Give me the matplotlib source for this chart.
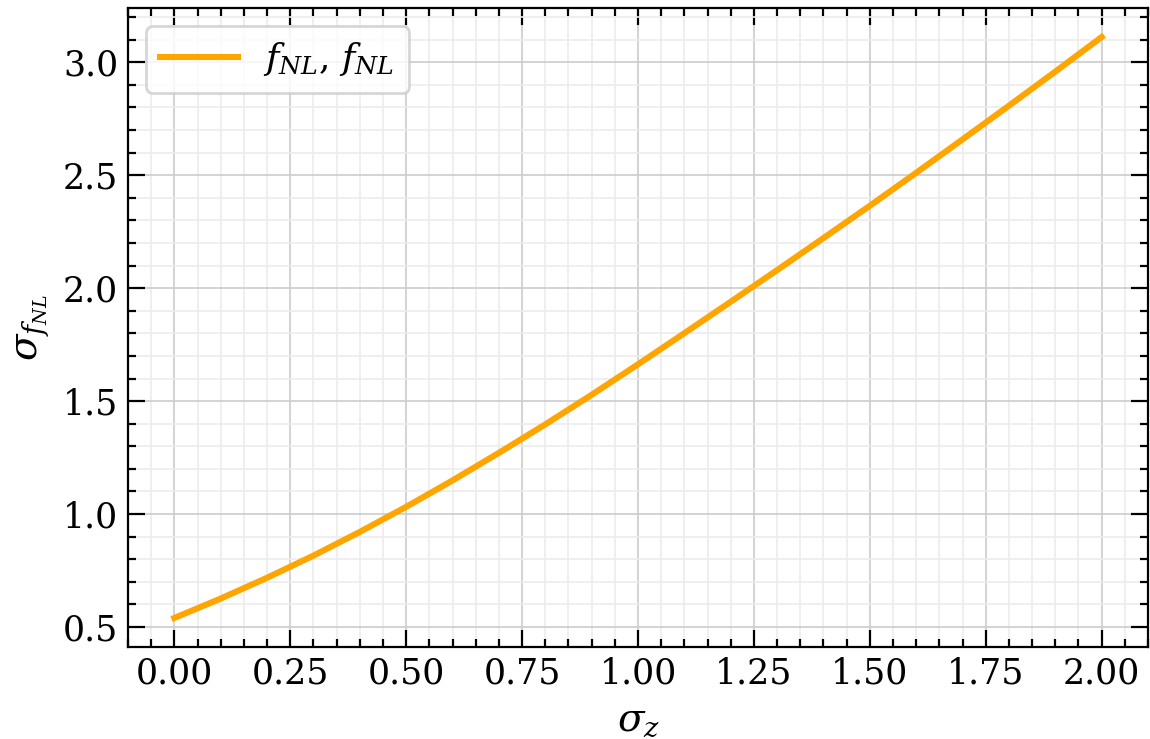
import matplotlib
matplotlib.use("Agg")
import matplotlib.pyplot as plt
from matplotlib.ticker import MultipleLocator

# sigma_z values and forecast error on f_NL
sigma_z = [0.0, 0.1, 0.2, 0.3, 0.4, 0.5, 0.6, 0.7, 0.8, 0.9, 1.0,
           1.1, 1.2, 1.3, 1.4, 1.5, 1.6, 1.7, 1.8, 1.9, 2.0]
sigma_fnl = [0.540, 0.626, 0.718, 0.816, 0.921, 1.032, 1.149, 1.271, 1.397, 1.528, 1.663,
             1.801, 1.940, 2.080, 2.222, 2.365, 2.511, 2.659, 2.808, 2.959, 3.112]
series_label = r"$f_{NL}$, $f_{NL}$"

plt.rcParams["font.family"] = "DejaVu Serif"
plt.rcParams["mathtext.fontset"] = "dejavuserif"
plt.rcParams["font.size"] = 12.5

fig = plt.figure(figsize=(5.75, 3.695), dpi=200)
ax = fig.add_axes([0.1113, 0.1245, 0.887, 0.8647])

ax.plot(sigma_z, sigma_fnl, color="orange", lw=2.2, label=series_label)

ax.xaxis.set_major_locator(MultipleLocator(0.25))
ax.xaxis.set_minor_locator(MultipleLocator(0.05))
ax.yaxis.set_major_locator(MultipleLocator(0.5))
ax.yaxis.set_minor_locator(MultipleLocator(0.1))
ax.xaxis.set_major_formatter(plt.FormatStrFormatter("%.2f"))
ax.yaxis.set_major_formatter(plt.FormatStrFormatter("%.1f"))

ax.tick_params(which="both", direction="in", top=True, right=True)
ax.tick_params(which="major", length=6, width=0.8)
ax.tick_params(which="minor", length=3, width=0.8)

ax.grid(which="major", color="#cccccc", lw=0.6)
ax.grid(which="minor", color="#ececec", lw=0.6)
ax.set_axisbelow(True)

ax.set_xlabel(r"$\sigma_z$", fontsize=14)
ax.set_ylabel(r"$\sigma_{f_{NL}}$", fontsize=14)
ax.legend(loc="upper left", fontsize=13, handlelength=2.15, handletextpad=0.7)

fig.savefig("out.png", dpi=200)
